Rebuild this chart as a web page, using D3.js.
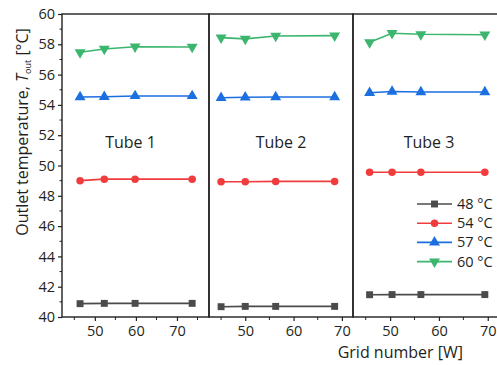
<!DOCTYPE html>
<html>
<head>
<meta charset="utf-8">
<script src="https://cdn.jsdelivr.net/npm/d3@7"></script>
<style>
  body { margin: 0; background: #fff; }
  text { font-family: "Open Sans", "Noto Sans", sans-serif; fill: #231f20; }
</style>
</head>
<body>
<div id="chart"></div>
<script>
// data
var tubes = ["Tube 1", "Tube 2", "Tube 3"];
var seriesNames = ["48 \u00B0C", "54 \u00B0C", "57 \u00B0C", "60 \u00B0C"];

var gridTube1 = [46.4, 52.3, 59.8, 73.7];
var gridTube2 = [45.0, 50.0, 56.3, 68.5];
var gridTube3 = [45.8, 50.4, 56.3, 69.4];

var t48 = [[40.88, 40.9, 40.9, 40.9], [40.68, 40.7, 40.7, 40.7], [41.47, 41.48, 41.48, 41.48]];
var t54 = [[49.0, 49.1, 49.1, 49.1], [48.93, 48.93, 48.95, 48.95], [49.55, 49.55, 49.55, 49.55]];
var t57 = [[54.52, 54.54, 54.59, 54.59], [54.47, 54.5, 54.52, 54.52], [54.8, 54.88, 54.85, 54.85]];
var t60 = [[57.47, 57.69, 57.84, 57.82], [58.44, 58.36, 58.55, 58.57], [58.13, 58.73, 58.66, 58.63]];

var yTicks = [40, 42, 44, 46, 48, 50, 52, 54, 56, 58, 60];
var xTicks = [50, 60, 70];
var xMinor = [45, 55, 65, 75];

var w = 497, h = 365;
var plotTop = 14, plotBottom = 317;
var colors = ["#4b4b4b", "#f03c3c", "#1b6fe0", "#3cb56e"];
var symbols = [d3.symbolSquare, d3.symbolCircle, d3.symbolTriangle, d3.symbolTriangle];
var symSize = [48, 44, 52, 52];
var symRot = [0, 0, 0, 180];

// each tube has its own x range in the figure
var panels = [
  {grid: gridTube1, domain: [42.0, 77.8], range: [62, 209]},
  {grid: gridTube2, domain: [42.5, 72.3], range: [209, 353]},
  {grid: gridTube3, domain: [42.4, 72.3], range: [353, 499]}
];
var allSeries = [t48, t54, t57, t60];

var svg = d3.select("#chart").append("svg")
    .attr("width", w)
    .attr("height", h);

var y = d3.scaleLinear().domain([40, 60]).range([plotBottom, plotTop]);

// y axis
var yAxis = svg.append("g")
    .attr("transform", "translate(62,0)")
    .call(d3.axisLeft(y).tickValues(yTicks).tickSize(4).tickPadding(3));
yAxis.select(".domain").remove();
yAxis.selectAll("line").attr("stroke", "#231f20").attr("stroke-width", 1.2);
yAxis.selectAll("text").style("font-size", "14.5px").attr("fill", "#231f20");

svg.append("g").selectAll("line")
    .data(d3.range(41, 60, 2))
  .join("line")
    .attr("x1", 59.5).attr("x2", 62)
    .attr("y1", function(d) { return y(d); })
    .attr("y2", function(d) { return y(d); })
    .attr("stroke", "#231f20").attr("stroke-width", 1);

panels.forEach(function(p, pi) {
  var x = d3.scaleLinear().domain(p.domain).range(p.range);
  var g = svg.append("g");

  // x axis
  var xa = g.append("g")
      .attr("transform", "translate(0," + plotBottom + ")")
      .call(d3.axisBottom(x).tickValues(xTicks).tickSize(4).tickPadding(5));
  xa.select(".domain").remove();
  xa.selectAll("line").attr("stroke", "#231f20").attr("stroke-width", 1.2);
  xa.selectAll("text").style("font-size", "14.5px").attr("fill", "#231f20");

  g.append("g").selectAll("line")
      .data(xMinor.filter(function(d) { return d > p.domain[0] && d < p.domain[1]; }))
    .join("line")
      .attr("x1", function(d) { return x(d); })
      .attr("x2", function(d) { return x(d); })
      .attr("y1", plotBottom).attr("y2", plotBottom + 3)
      .attr("stroke", "#231f20").attr("stroke-width", 1);

  // series
  allSeries.forEach(function(s, si) {
    var pts = p.grid.map(function(gv, i) { return [gv, s[pi][i]]; });
    g.append("path")
        .datum(pts)
        .attr("fill", "none")
        .attr("stroke", colors[si])
        .attr("stroke-width", 1.6)
        .attr("d", d3.line()
          .x(function(d) { return x(d[0]); })
          .y(function(d) { return y(d[1]); }));
    g.selectAll(null)
        .data(pts)
      .join("path")
        .attr("d", d3.symbol().type(symbols[si]).size(symSize[si]))
        .attr("transform", function(d) {
          return "translate(" + x(d[0]) + "," + y(d[1]) + ") rotate(" + symRot[si] + ")";
        })
        .attr("fill", colors[si]);
  });

  // tube label
  g.append("text")
      .attr("x", (p.range[0] + Math.min(p.range[1], w)) / 2 + (pi == 0 ? -5 : (pi == 2 ? 4 : 0)))
      .attr("y", 148)
      .attr("text-anchor", "middle")
      .style("font-size", "16px")
      .text(tubes[pi]);

  // frame
  g.append("rect")
      .attr("x", p.range[0]).attr("y", plotTop)
      .attr("width", p.range[1] - p.range[0])
      .attr("height", plotBottom - plotTop)
      .attr("fill", "none")
      .attr("stroke", "#231f20")
      .attr("stroke-width", 1.4);
});

// legend
var leg = svg.append("g");
seriesNames.forEach(function(name, i) {
  var ly = 204 + i * 19.2;
  leg.append("line")
      .attr("x1", 417).attr("x2", 452)
      .attr("y1", ly).attr("y2", ly)
      .attr("stroke", colors[i]).attr("stroke-width", 1.6);
  leg.append("path")
      .attr("d", d3.symbol().type(symbols[i]).size(symSize[i]))
      .attr("transform", "translate(434.5," + ly + ") rotate(" + symRot[i] + ")")
      .attr("fill", colors[i]);
  leg.append("text")
      .attr("x", 457).attr("y", ly + 5)
      .style("font-size", "14.5px")
      .text(name);
});

// axis titles
var yl = svg.append("text")
    .attr("transform", "translate(28,132) rotate(-90)")
    .attr("text-anchor", "middle")
    .style("font-size", "16px");
yl.append("tspan").text("Outlet temperature, ");
yl.append("tspan").style("font-style", "italic").text("T");
yl.append("tspan").attr("dy", 3).style("font-size", "9px").text("out");
yl.append("tspan").attr("dy", -3).text(" [\u00B0C]");

svg.append("text")
    .attr("x", 463).attr("y", 358)
    .attr("text-anchor", "end")
    .style("font-size", "16px")
    .text("Grid number [W]");
</script>
</body>
</html>
